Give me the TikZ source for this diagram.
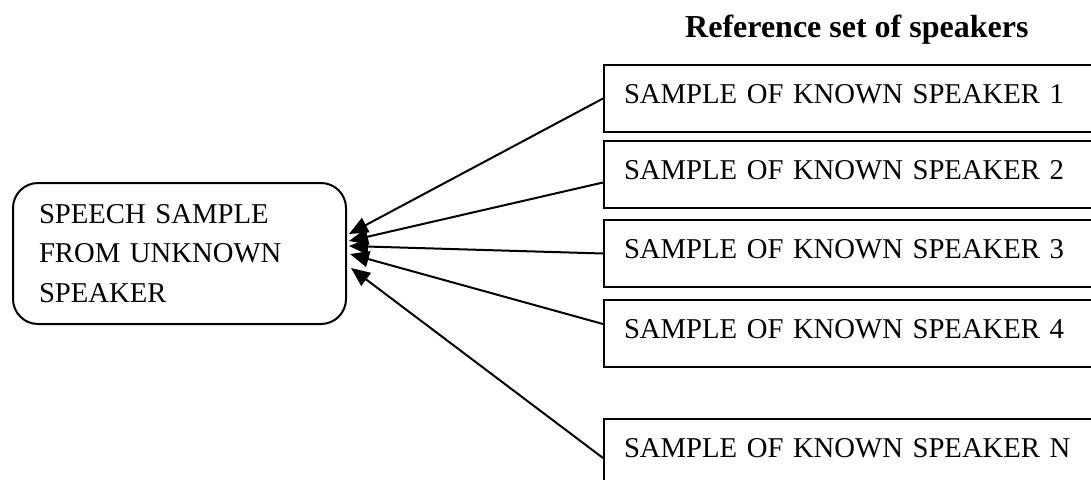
\documentclass[tikz,border=0pt]{standalone}
\usepackage{fontspec}
\setmainfont{Liberation Serif}
\usetikzlibrary{arrows.meta}
\begin{document}
\begin{tikzpicture}[x=1pt,y=-1pt,
  every node/.style={font=\fontsize{28.7}{39.5}\selectfont},
  known/.style={draw, line width=2pt, anchor=north west, minimum width=520pt,
    minimum height=67pt, text height=20pt, text depth=10pt, inner xsep=20pt,
    text width=480pt, align=left},
  srcbox/.style={draw, line width=2pt, rounded corners=25pt, anchor=north west,
    text width=281pt, inner xsep=26pt, minimum height=141pt, align=left},
  conn/.style={line width=2pt, -{Triangle[length=19pt,width=16pt]}},
  titlestyle/.style={font=\bfseries\fontsize{32}{38}\selectfont, anchor=base west, inner sep=0pt}
]
\useasboundingbox (0,0) rectangle (1091,479);
\clip (0,0) rectangle (1091,479);

\node[titlestyle] (title) at (685,37) {Reference set of speakers};

\node[srcbox] (src) at (12,182) {SPEECH SAMPLE\\FROM UNKNOWN\\SPEAKER};

\node[known] (b1) at (603,64)  {SAMPLE OF KNOWN SPEAKER 1};
\node[known] (b2) at (603,140) {SAMPLE OF KNOWN SPEAKER 2};
\node[known] (b3) at (603,219) {SAMPLE OF KNOWN SPEAKER 3};
\node[known] (b4) at (603,299) {SAMPLE OF KNOWN SPEAKER 4};
\node[known] (bN) at (603,418) {SAMPLE OF KNOWN SPEAKER N};

\coordinate (t1) at ([shift={(2pt,19.5pt)}]src.east);
\coordinate (t2) at ([shift={(2pt,12.5pt)}]src.east);
\coordinate (t3) at ([shift={(2pt,7.5pt)}]src.east);
\coordinate (t4) at ([shift={(3pt,-0.5pt)}]src.east);
\coordinate (t5) at ([shift={(4pt,-14.5pt)}]src.east);

\draw[conn] (b1.west) -- (t1);
\draw[conn] ([yshift=-8pt]b2.west) -- (t2);
\draw[conn] (b3.west) -- (t3);
\draw[conn] ([yshift=9.5pt]b4.west) -- (t4);
\draw[conn] ([yshift=-5.5pt]bN.west) -- (t5);
\end{tikzpicture}
\end{document}
